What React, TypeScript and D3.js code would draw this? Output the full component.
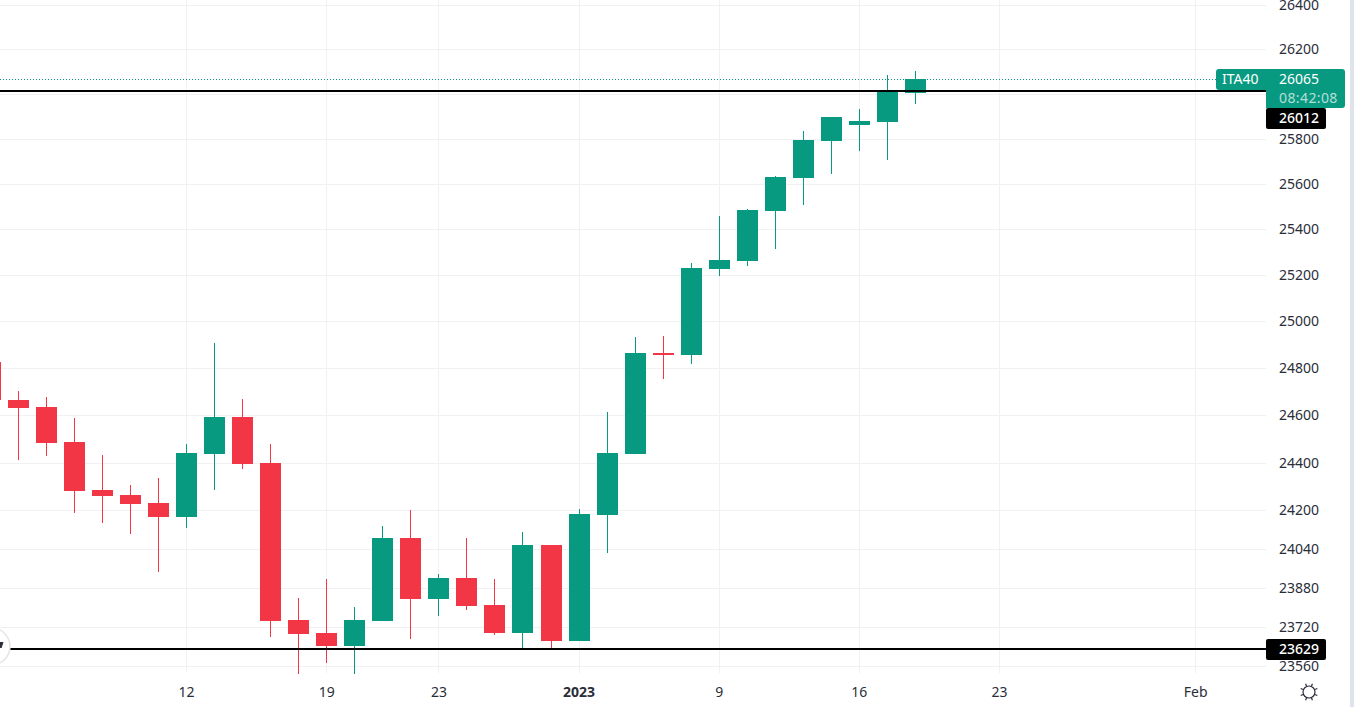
import { range, scaleLinear, scaleLog } from 'd3';

// daily candles, oldest first (first one is mostly off the left edge)
const opens = [24826, 24664, 24635, 24487, 24285, 24264, 24231, 24172, 24436, 24592, 24398, 23748, 23695, 23641, 23744, 24085, 23834, 23920, 23809, 23695, 24056, 23662, 24180, 24436, 24865, 24856, 25227, 25262, 25481, 25625, 25789, 25860, 25873, 26003];
const highs = [24860, 24703, 24677, 24588, 24432, 24306, 24335, 24478, 24908, 24668, 24478, 23838, 23916, 23801, 24135, 24201, 23936, 24085, 23916, 24110, 24056, 24205, 24614, 24934, 24938, 25253, 25458, 25490, 25634, 25833, 25896, 25932, 26085, 26103];
const lows = [24640, 24411, 24427, 24189, 24147, 24102, 23945, 24126, 24285, 24373, 23678, 23528, 23573, 23528, 23744, 23670, 23764, 23788, 23687, 23629, 23629, 23662, 24023, 24436, 24754, 24818, 25197, 25240, 25314, 25506, 25643, 25745, 25705, 25954];
const closes = [24664, 24630, 24483, 24281, 24260, 24226, 24172, 24440, 24592, 24394, 23744, 23691, 23641, 23748, 24085, 23834, 23920, 23805, 23695, 24056, 23662, 24184, 24440, 24865, 24856, 25231, 25267, 25486, 25630, 25793, 25896, 25878, 26008, 26065];

const gridTicks = [26400, 26200, 26000, 25800, 25600, 25400, 25200, 25000, 24800, 24600, 24400, 24200, 24040, 23880, 23720, 23560];
// 26000 sits behind the last price badge, so it only gets a grid line
const priceLabels = gridTicks.filter((t) => t !== 26000);
const timeLabels = ['12', '19', '23', '2023', '9', '16', '23', 'Feb'];
const timeBars = [7, 12, 16, 21, 26, 31, 36, 43];
const boldLabels = ['2023'];

const supportLevels = [26012, 23629];
const lastPrice = 26065;
const symbol = 'ITA40';
const countdown = '08:42:08';

const green = '#089981';
const red = '#f23645';
const gridColor = '#f0f1f4';
const textColor = '#2a2e39';
const font = '"Noto Sans", sans-serif';

const paneWidth = 1266;
const paneHeight = 674;

const y = scaleLog().domain([23560, 26400]).range([666, 5]);
const x = scaleLinear().domain([0, 33]).range([-9.58, 915.41]);

export default function App() {
  const lastY = Math.round(y(lastPrice));
  return (
    <svg
      width={1354}
      height={707}
      viewBox="0 0 1354 707"
      style={{ position: 'fixed', left: 0, top: 0, display: 'block', background: '#fff' }}
      fontFamily={font}
    >
      <defs>
        <clipPath id="pane">
          <rect x={0} y={0} width={paneWidth} height={paneHeight} />
        </clipPath>
      </defs>

      <g shapeRendering="crispEdges">
        {gridTicks.map((t) => (
          <line key={t} x1={0} x2={paneWidth} y1={Math.round(y(t)) + 0.5} y2={Math.round(y(t)) + 0.5} stroke={gridColor} />
        ))}
        {timeBars.map((b, i) => (
          <line key={i} x1={Math.floor(x(b)) + 0.5} x2={Math.floor(x(b)) + 0.5} y1={0} y2={paneHeight - 1} stroke={gridColor} />
        ))}
      </g>

      <line x1={0} x2={1216} y1={lastY + 0.5} y2={lastY + 0.5} stroke={green} strokeDasharray="1 2" />

      <g clipPath="url(#pane)" shapeRendering="crispEdges">
        {opens.map((o, i) => {
          const color = closes[i] >= o ? green : red;
          const cx = x(i);
          const top = Math.round(y(Math.max(o, closes[i])));
          const bottom = Math.round(y(Math.min(o, closes[i])));
          return (
            <g key={i} fill={color}>
              <rect x={Math.round(cx - 0.5)} width={1} y={Math.round(y(highs[i]))} height={Math.round(y(lows[i])) - Math.round(y(highs[i]))} />
              <rect x={Math.round(cx - 10.5)} width={21} y={top} height={Math.max(bottom - top, 2)} />
            </g>
          );
        })}
      </g>

      {supportLevels.map((p) => (
        <line key={p} x1={0} x2={paneWidth} y1={Math.round(y(p))} y2={Math.round(y(p))} stroke="#000" strokeWidth={2} shapeRendering="crispEdges" />
      ))}

      {/* collapse button at the left edge */}
      <circle cx={-8.5} cy={646.5} r={18.5} fill="#fff" stroke="#e4e4e8" strokeWidth={1.5} />
      <path d="M-3 642.5 L1 648 L3 642.5 Z" fill={textColor} stroke={textColor} />

      <g fontSize={14} fill={textColor}>
        {priceLabels.map((t) => (
          <text key={t} x={1279} y={Math.round(y(t))} dy="0.36em">
            {t}
          </text>
        ))}
        {timeLabels.map((l, i) => (
          <text
            key={i}
            x={x(timeBars[i])}
            y={692}
            dy="0.36em"
            textAnchor="middle"
            fontWeight={boldLabels.includes(l) ? 700 : 400}
          >
            {l}
          </text>
        ))}
      </g>

      {/* last price badge */}
      <rect x={1216} y={69} width={60} height={21} rx={3} fill={green} />
      <rect x={1266} y={69} width={79} height={39} rx={3} fill={green} />
      <rect x={1266} y={69} width={10} height={39} fill={green} />
      <g fontSize={14}>
        <text x={1222} y={79} dy="0.36em" fill="#fff">{symbol}</text>
        <text x={1279} y={79} dy="0.36em" fill="#fff">{lastPrice}</text>
        <text x={1279} y={98} dy="0.36em" fill="#fff" fillOpacity={0.7} letterSpacing={0.4}>{countdown}</text>
      </g>

      {/* level labels */}
      {supportLevels.map((p) => {
        const ly = p === 26012 ? 118 : Math.round(y(p));
        return (
          <g key={p}>
            <rect x={1266} y={ly - 10} width={60} height={21} rx={2} fill="#000" />
            <text x={1279} y={ly} dy="0.36em" fontSize={14} fontWeight={500} fill="#fff">{p}</text>
          </g>
        );
      })}

      {/* theme icon */}
      <g stroke={textColor} strokeWidth={1.2} fill="none">
        <circle cx={1309} cy={692} r={6} />
        {range(8).map((i) => {
          const a = (i * Math.PI) / 4 + Math.PI / 8;
          return (
            <line
              key={i}
              x1={1309 + 6.5 * Math.cos(a)}
              y1={692 + 6.5 * Math.sin(a)}
              x2={1309 + 9 * Math.cos(a)}
              y2={692 + 9 * Math.sin(a)}
            />
          );
        })}
      </g>

      <rect x={1350} y={0} width={4} height={707} fill="#e0e3eb" />
    </svg>
  );
}
